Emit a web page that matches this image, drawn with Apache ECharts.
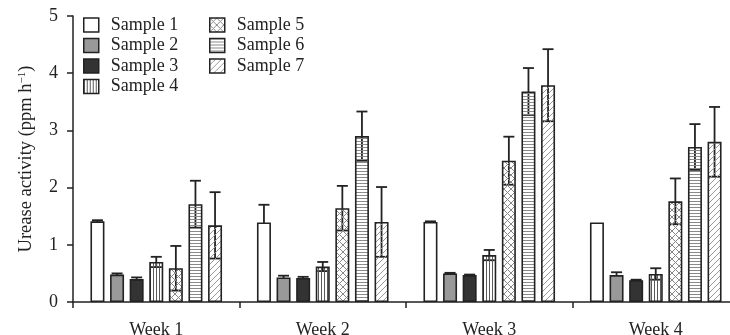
<!DOCTYPE html>
<html>
<head>
<meta charset="utf-8">
<script src="https://cdn.jsdelivr.net/npm/echarts@6/dist/echarts.min.js"></script>
<style>
html,body{margin:0;padding:0;background:#fff;}
#chart{width:730px;height:335px;}
</style>
</head>
<body>
<div id="chart"></div>
<script>
// ---- data ----
var categories = ['Week 1', 'Week 2', 'Week 3', 'Week 4'];
var sampleNames = ['Sample 1', 'Sample 2', 'Sample 3', 'Sample 4', 'Sample 5', 'Sample 6', 'Sample 7'];
var sample1 = [1.41, 1.39, 1.40, 1.39];
var sample2 = [0.48, 0.43, 0.50, 0.47];
var sample3 = [0.40, 0.42, 0.47, 0.38];
var sample4 = [0.70, 0.62, 0.82, 0.49];
var sample5 = [0.59, 1.64, 2.47, 1.76];
var sample6 = [1.71, 2.90, 3.68, 2.71];
var sample7 = [1.34, 1.40, 3.79, 2.80];
var err1 = [0.02, 0.31, 0.01, 0.00];
var err2 = [0.02, 0.03, 0.01, 0.05];
var err3 = [0.03, 0.02, 0.01, 0.01];
var err4 = [0.09, 0.08, 0.09, 0.10];
var err5 = [0.39, 0.39, 0.42, 0.40];
var err6 = [0.41, 0.43, 0.41, 0.40];
var err7 = [0.58, 0.61, 0.63, 0.61];
var yTicks = [0, 1, 2, 3, 4, 5];

var values = [sample1, sample2, sample3, sample4, sample5, sample6, sample7];
var errors = [err1, err2, err3, err4, err5, err6, err7];

// ---- styles ----
var FONT = 'Liberation Serif';
var INK = '#222';
var BAR_W = 14;
var BAR_GAP = 0.4;

function pattern(w, h, draw) {
  var c = document.createElement('canvas');
  c.width = w; c.height = h;
  var ctx = c.getContext('2d');
  draw(ctx, w, h);
  return { image: c, repeat: 'repeat' };
}
var fills = [
  '#ffffff',
  '#999999',
  '#333333',
  pattern(3, 3, function (ctx, w, h) { ctx.fillStyle = '#5a5a5a'; ctx.fillRect(0, 0, 1, h); }),
  pattern(7, 7, function (ctx, w, h) {
    ctx.strokeStyle = '#888'; ctx.lineWidth = 1;
    ctx.beginPath(); ctx.moveTo(0, 0); ctx.lineTo(w, h); ctx.moveTo(w, 0); ctx.lineTo(0, h); ctx.stroke();
  }),
  pattern(3, 3, function (ctx, w, h) { ctx.fillStyle = '#8a8a8a'; ctx.fillRect(0, 0, w, 1); }),
  pattern(6, 6, function (ctx, w, h) {
    ctx.strokeStyle = '#999'; ctx.lineWidth = 1;
    ctx.beginPath();
    ctx.moveTo(0, h); ctx.lineTo(w, 0);
    ctx.moveTo(-1, 1); ctx.lineTo(1, -1);
    ctx.moveTo(w - 1, h + 1); ctx.lineTo(w + 1, h - 1);
    ctx.stroke();
  })
];

var series = [];
values.forEach(function (vals, i) {
  series.push({
    name: sampleNames[i],
    type: 'bar',
    data: vals,
    barWidth: BAR_W,
    barGap: (BAR_GAP * 100) + '%',
    z: 3,
    itemStyle: { color: fills[i], borderColor: INK, borderWidth: 1.6 },
    emphasis: { disabled: true }
  });
});
errors.forEach(function (errs, i) {
  var offset = (i - (values.length - 1) / 2) * BAR_W * (1 + BAR_GAP);
  series.push({
    name: 'err' + (i + 1),
    type: 'custom',
    z: 1,
    silent: true,
    data: errs.map(function (e, k) { return [k, values[i][k], e]; }),
    encode: { x: 0, y: 1 },
    renderItem: function (params, api) {
      var k = api.value(0), v = api.value(1), e = api.value(2);
      if (!e) return null;
      var x = api.coord([k, v])[0] + offset;
      var hi = api.coord([k, v + e])[1];
      var lo = api.coord([k, v - e])[1];
      var cw = 5.5;
      var st = { stroke: INK, lineWidth: 1.8 };
      return {
        type: 'group',
        children: [
          { type: 'line', shape: { x1: x, y1: lo, x2: x, y2: hi }, style: st },
          { type: 'line', shape: { x1: x - cw, y1: hi, x2: x + cw, y2: hi }, style: st },
          { type: 'line', shape: { x1: x - cw, y1: lo, x2: x + cw, y2: lo }, style: st }
        ]
      };
    }
  });
});

var legendCommon = {
  orient: 'vertical',
  top: 11,
  itemWidth: 15,
  itemHeight: 14,
  itemGap: 2.5,
  icon: 'rect',
  selectedMode: false,
  itemStyle: { borderColor: INK, borderWidth: 1.5 },
  textStyle: { fontFamily: FONT, fontSize: 18, color: INK, lineHeight: 18, padding: [0, 0, 0, 7] }
};

var option = {
  animation: false,
  backgroundColor: '#fff',
  textStyle: { fontFamily: FONT },
  legend: [
    Object.assign({}, legendCommon, { left: 78, data: sampleNames.slice(0, 4) }),
    Object.assign({}, legendCommon, { left: 204, data: sampleNames.slice(4) })
  ],
  grid: { left: 73, top: 16, width: 666, height: 286, containLabel: false, outerBoundsMode: 'none' },
  xAxis: {
    type: 'category',
    data: categories,
    axisLine: { lineStyle: { color: INK, width: 1.5 } },
    axisTick: { show: true, length: 6, lineStyle: { color: INK, width: 1.5 } },
    axisLabel: { fontFamily: FONT, fontSize: 18, color: INK, margin: 19 }
  },
  yAxis: {
    type: 'value',
    min: yTicks[0],
    max: yTicks[yTicks.length - 1],
    interval: 1,
    name: '{a|Urease activity (ppm h}{s|−1}{a|)}',
    nameLocation: 'middle',
    nameRotate: 90,
    nameGap: 37,
    nameTextStyle: {
      rich: {
        a: { fontFamily: FONT, fontSize: 18.5, color: INK },
        s: { fontFamily: FONT, fontSize: 11, color: INK, verticalAlign: 'top', padding: [0, 0, 8, 0] }
      }
    },
    splitLine: { show: false },
    axisLine: { show: true, lineStyle: { color: INK, width: 1.5 } },
    axisTick: { show: true, length: 6, lineStyle: { color: INK, width: 1.5 } },
    axisLabel: { fontFamily: FONT, fontSize: 18, color: INK, margin: 15 }
  },
  series: series
};

var chart = echarts.init(document.getElementById('chart'), null, { renderer: 'canvas' });
chart.setOption(option);
</script>
</body>
</html>
